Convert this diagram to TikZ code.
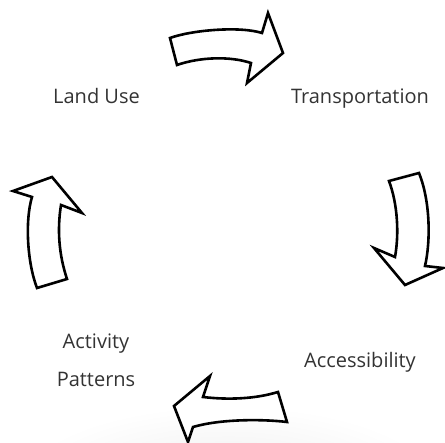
\documentclass[tikz,border=0pt]{standalone}
\usepackage{fontspec}
\setmainfont{Open Sans}
\begin{document}
\begin{tikzpicture}[x=1pt,y=-1pt,
  label/.style={font=\fontsize{20}{23}\selectfont, text=black!80, anchor=base, inner sep=0pt},
  bigarrow/.style={draw=black, fill=white, line width=2.6pt, line join=miter}]
\useasboundingbox (0,0) rectangle (445,443);
% soft floor shadow
\shade[inner color=black!7, outer color=white] (228,490) ellipse [x radius=215, y radius=85];
% cycle labels
\node[label] (landuse) at (96.5,104) {Land Use};
\node[label] (transport) at (360,104) {Transportation};
\node[label] (access) at (360,368) {Accessibility};
\node[label] (activity) at (96,349) {Activity};
\node[label] (patterns) at (96,387) {Patterns};
% block arrows of the cycle
\draw[bigarrow] (170,38) .. controls (192,30) and (240,26) .. (262,33) -- (268,13) -- (283,53) -- (247,83) -- (251,63)
  .. controls (230,56) and (200,57) .. (177,65) -- cycle;
\draw[bigarrow] (389,181) -- (419,173) .. controls (430,200) and (431,240) .. (425,266) -- (443,268) -- (405,285) -- (374,248) -- (395,257)
  .. controls (399,235) and (398,205) .. (389,181) -- cycle;
\draw[bigarrow] (278,392) -- (287,422) .. controls (262,419) and (220,419) .. (193,427) -- (188,442) -- (174,406) -- (210,376) -- (203,397)
  .. controls (228,400) and (255,399) .. (278,392) -- cycle;
\draw[bigarrow] (37,288) -- (67,279) .. controls (59,255) and (57,230) .. (61,205) -- (82,213) -- (52,177) -- (13,191) -- (32,197)
  .. controls (25,220) and (27,262) .. (37,288) -- cycle;
\end{tikzpicture}
\end{document}
